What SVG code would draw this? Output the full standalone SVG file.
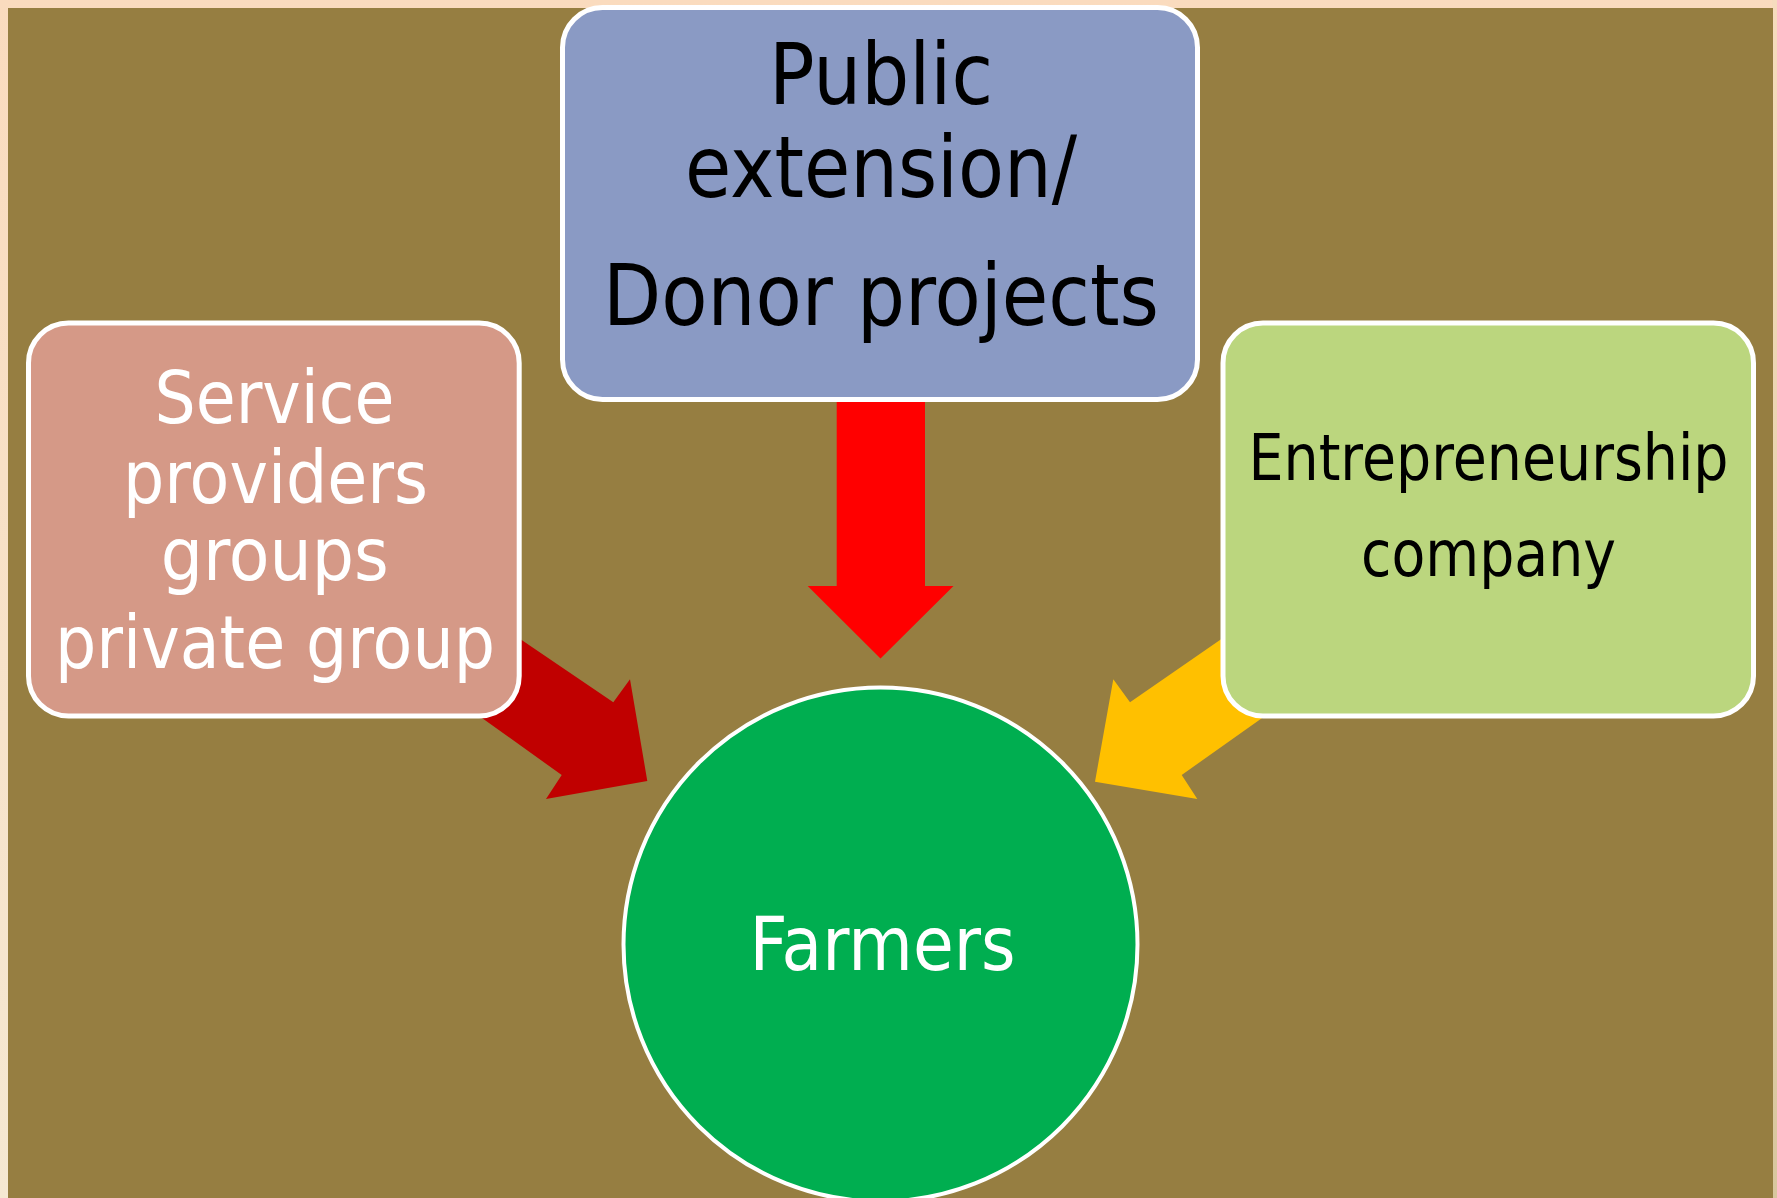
<svg xmlns="http://www.w3.org/2000/svg" width="1777" height="1198" viewBox="0 0 1777 1198">
<defs>
<linearGradient id="frame" x1="0" y1="0" x2="0" y2="1">
<stop offset="0" stop-color="#FADBBE"/>
<stop offset="1" stop-color="#F5E8D2"/>
</linearGradient>
<linearGradient id="frameR" x1="0" y1="0" x2="0" y2="1">
<stop offset="0" stop-color="#F6DCBE"/>
<stop offset="1" stop-color="#D8C79E"/>
</linearGradient>
</defs>
<style>
.box{stroke:#FFFFFF;stroke-width:5}
.t{font-family:"DejaVu Sans","Liberation Sans",sans-serif;text-anchor:middle}
.blk{fill:#000000}
.wht{fill:#FFFFFF}
</style>
<rect x="0" y="0" width="1777" height="1198" fill="url(#frame)"/>
<rect x="1772" y="0" width="5" height="1198" fill="url(#frameR)"/>
<rect x="8" y="8" width="1765" height="1190" fill="#967E41"/>
<g id="connectors">
<polygon fill="#FF0000" points="836.7,390 925,390 925,586 953.5,586 880.5,658.5 807.7,586 836.7,586"/>
<polygon fill="#C00000" points="470,605 613.3,702.3 630,679.3 647.3,781 546,799 561.7,775 440,688"/>
<polygon fill="#FFC000" points="1280,598.5 1130,702.3 1113.3,679.3 1095,781.7 1197.3,799 1181.7,775 1310,684"/>
</g>
<g id="node-public">
<rect class="box" x="562.5" y="7.5" width="635" height="392" rx="40" ry="40" fill="#8A9AC4"/>
<text class="t blk" font-size="86" x="881" y="104" textLength="224" lengthAdjust="spacingAndGlyphs">Public</text>
<text class="t blk" font-size="86" x="881" y="197" textLength="392" lengthAdjust="spacingAndGlyphs">extension/</text>
<text class="t blk" font-size="86" x="881" y="325" textLength="556" lengthAdjust="spacingAndGlyphs">Donor projects</text>
</g>
<g id="node-service">
<rect class="box" x="28.5" y="323" width="490.7" height="393" rx="40" ry="40" fill="#D59987"/>
<text class="t wht" font-size="73" x="274.5" y="422.7" textLength="240" lengthAdjust="spacingAndGlyphs">Service</text>
<text class="t wht" font-size="73" x="275.5" y="503.3" textLength="305" lengthAdjust="spacingAndGlyphs">providers</text>
<text class="t wht" font-size="73" x="274.7" y="580" textLength="228" lengthAdjust="spacingAndGlyphs">groups</text>
<text class="t wht" font-size="73" x="275" y="668.3" textLength="440" lengthAdjust="spacingAndGlyphs">private group</text>
</g>
<g id="node-entrepreneurship">
<rect class="box" x="1223" y="323" width="530.5" height="393" rx="40" ry="40" fill="#BBD67E"/>
<text class="t blk" font-size="64" x="1488.5" y="480" textLength="480" lengthAdjust="spacingAndGlyphs">Entrepreneurship</text>
<text class="t blk" font-size="64" x="1488.5" y="575.7" textLength="255" lengthAdjust="spacingAndGlyphs">company</text>
</g>
<g id="node-farmers">
<circle cx="880.5" cy="944.5" r="257" fill="#00AE50" stroke="#FFFFFF" stroke-width="4"/>
<text class="t wht" font-size="75" x="882.5" y="970" textLength="266" lengthAdjust="spacingAndGlyphs">Farmers</text>
</g>
</svg>
